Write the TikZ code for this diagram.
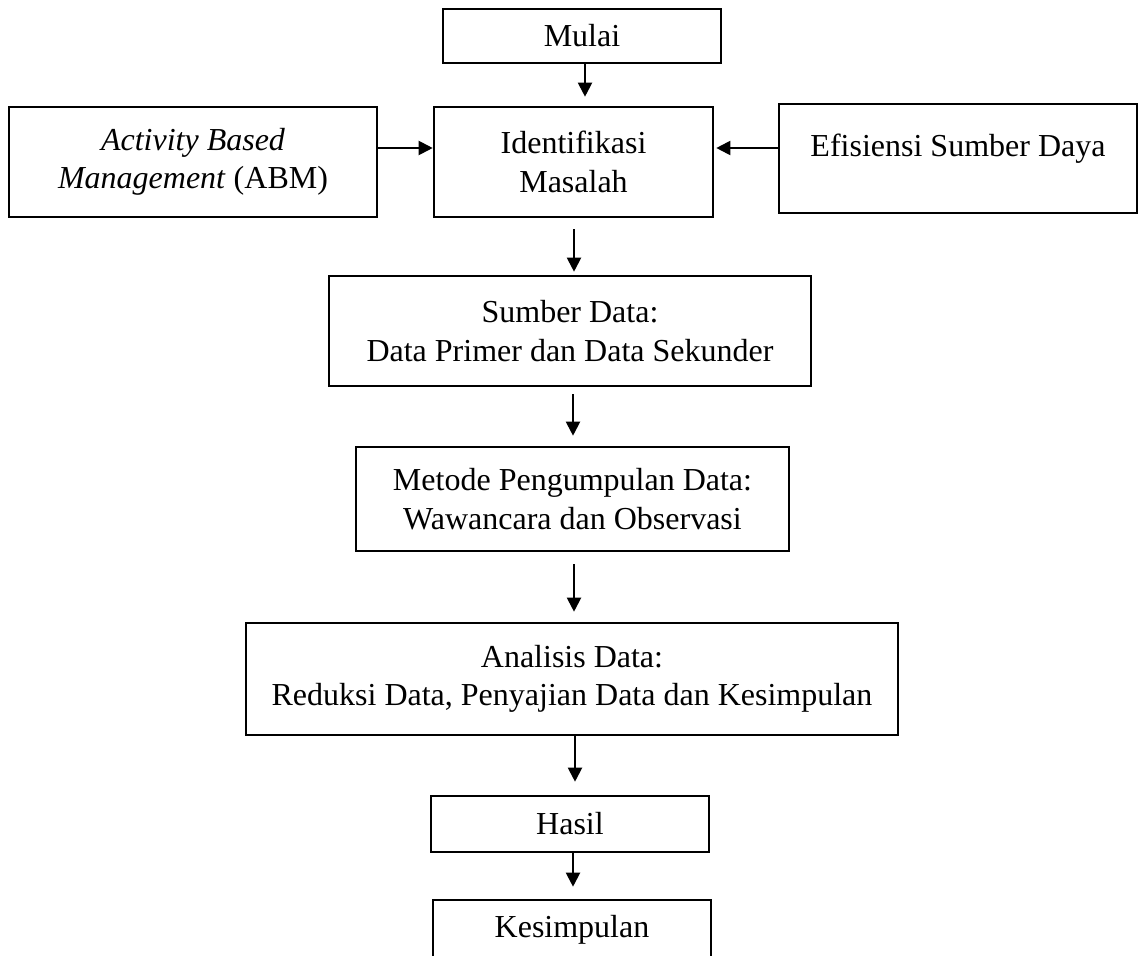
\documentclass[tikz,border=0pt]{standalone}
\usepackage{fontspec}
\setmainfont{Liberation Serif}
\usetikzlibrary{arrows.meta}
\begin{document}
\begin{tikzpicture}[x=1pt,y=-1pt,
  box/.style={draw, line width=2.6pt, inner sep=0pt, align=center,
    font=\fontsize{32}{38.5}\selectfont},
  arr/.style={line width=2pt, -{Triangle[length=14pt,width=14pt]}}]
\useasboundingbox (0,0) rectangle (1139,955);
\clip (0,0) rectangle (1139,955);
\fill[white] (0,0) rectangle (1139,955);

\node[box, minimum width=278pt, minimum height=54pt] (mulai) at (582,36) {Mulai};
\node[box, minimum width=368pt, minimum height=110pt] (abm) at (193,162)
  {\textit{Activity Based}\\\textit{Management} (ABM)};
\node[box, minimum width=279pt, minimum height=110pt] (ident) at (573.5,162)
  {Identifikasi\\Masalah};
\node[box, minimum width=358pt, minimum height=109pt] (efis) at (958,158.5)
  {\raisebox{0pt}[\height][\dimexpr\depth+20pt\relax]{Efisiensi Sumber Daya}};
\node[box, minimum width=482pt, minimum height=110pt] (sumber) at (570,331)
  {Sumber Data:\\Data Primer dan Data Sekunder};
\node[box, minimum width=433pt, minimum height=104pt] (metode) at (572.5,499)
  {Metode Pengumpulan Data:\\Wawancara dan Observasi};
\node[box, minimum width=652pt, minimum height=112pt] (analisis) at (572,679)
  {Analisis Data:\\Reduksi Data, Penyajian Data dan Kesimpulan};
\node[box, minimum width=278pt, minimum height=56pt] (hasil) at (570,824) {Hasil};
\node[box, minimum width=278pt, minimum height=60pt] (kes) at (572,930) {Kesimpulan};

\draw[arr] ([xshift=3pt]mulai.south) -- ([xshift=11.5pt,yshift=9pt]ident.north);
\draw[arr] ([yshift=14pt]abm.east) -- ([yshift=14pt]ident.west);
\draw[arr] ([yshift=10.5pt]efis.west) -- ([xshift=2pt,yshift=14pt]ident.east);
\draw[arr] ([xshift=0.5pt,yshift=-11pt]ident.south) -- ([xshift=4pt,yshift=3pt]sumber.north);
\draw[arr] ([xshift=3pt,yshift=-7pt]sumber.south) -- ([xshift=0.5pt,yshift=10pt]metode.north);
\draw[arr] ([xshift=1.5pt,yshift=-12pt]metode.south) -- ([xshift=2pt,yshift=10pt]analisis.north);
\draw[arr] ([xshift=3pt]analisis.south) -- ([xshift=5pt,yshift=13pt]hasil.north);
\draw[arr] ([xshift=3pt]hasil.south) -- ([xshift=1pt,yshift=12pt]kes.north);
\end{tikzpicture}
\end{document}
